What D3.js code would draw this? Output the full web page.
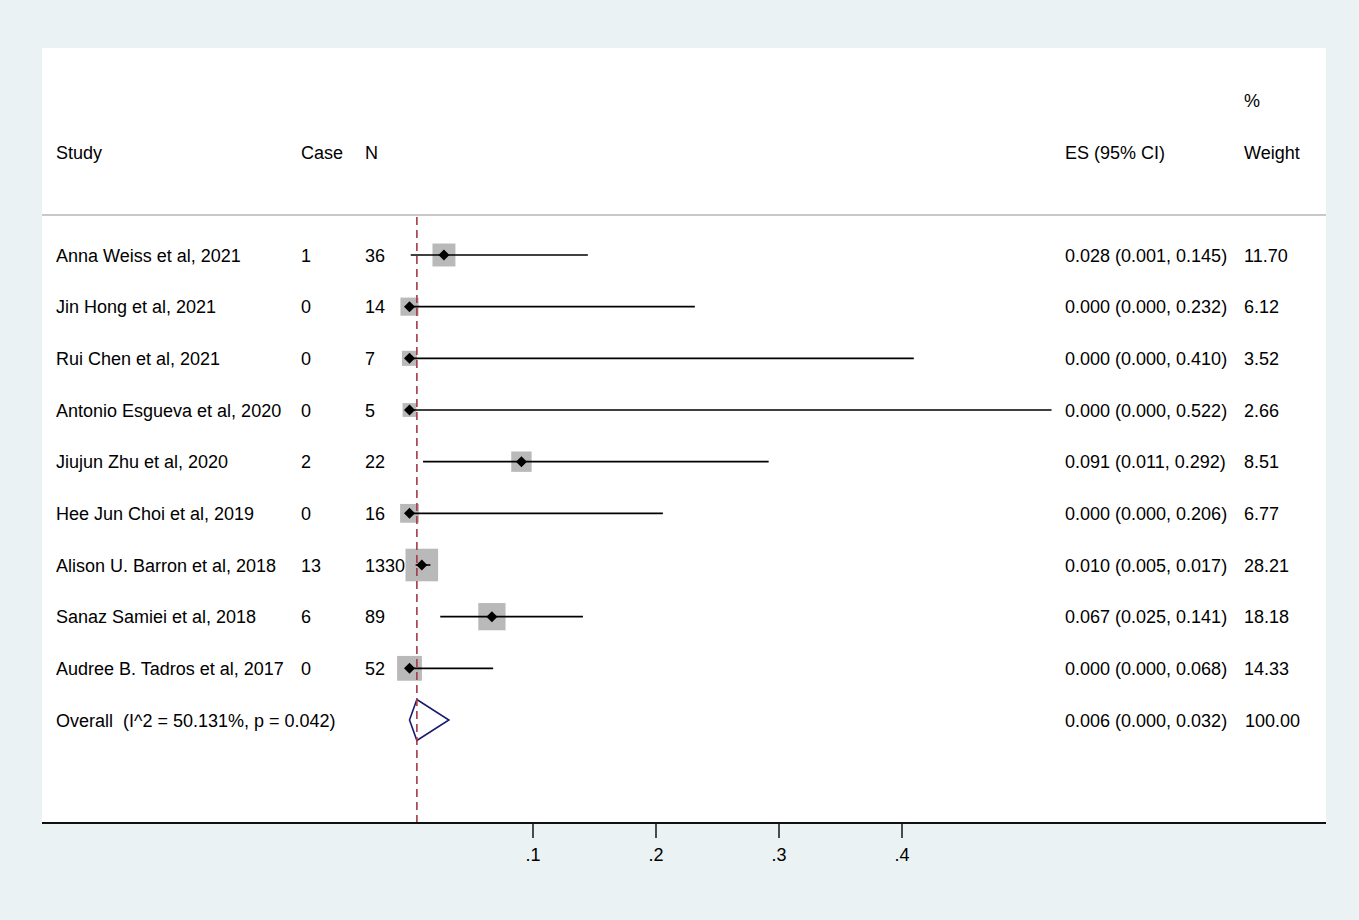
<!DOCTYPE html>
<html>
<head>
<meta charset="utf-8">
<script src="https://cdn.jsdelivr.net/npm/d3@7"></script>
<style>
  body { margin: 0; background: #eaf2f3; }
  svg text { font-family: "Liberation Sans", Arial, sans-serif; font-size: 18px; fill: #000; white-space: pre; }
</style>
</head>
<body>
<div id="chart"></div>
<script>
// study-level data
const studies = ["Anna Weiss et al, 2021", "Jin Hong et al, 2021", "Rui Chen et al, 2021",
    "Antonio Esgueva et al, 2020", "Jiujun Zhu et al, 2020", "Hee Jun Choi et al, 2019",
    "Alison U. Barron et al, 2018", "Sanaz Samiei et al, 2018", "Audree B. Tadros et al, 2017"];
const cases = [1, 0, 0, 0, 2, 0, 13, 6, 0];
const ns = [36, 14, 7, 5, 22, 16, 1330, 89, 52];
const es = [0.028, 0.000, 0.000, 0.000, 0.091, 0.000, 0.010, 0.067, 0.000];
const lower = [0.001, 0.000, 0.000, 0.000, 0.011, 0.000, 0.005, 0.025, 0.000];
const upper = [0.145, 0.232, 0.410, 0.522, 0.292, 0.206, 0.017, 0.141, 0.068];
const weights = ["11.70", "6.12", "3.52", "2.66", "8.51", "6.77", "28.21", "18.18", "14.33"];

// pooled estimate
const overallLabel = "Overall  (I^2 = 50.131%, p = 0.042)";
const overall = {es: 0.006, lo: 0.000, hi: 0.032, weight: "100.00"};

const xTicks = [0.1, 0.2, 0.3, 0.4];

const W = 1359, H = 920;
const panel = {left: 42, right: 1326, top: 48, bottom: 823};
const headerLine = 215;
const col = {study: 56, cases: 301, n: 365, es: 1065, weight: 1244};

const svg = d3.select("#chart").append("svg")
    .attr("width", W)
    .attr("height", H);

// white plot region
svg.append("rect")
    .attr("x", panel.left)
    .attr("y", panel.top)
    .attr("width", panel.right - panel.left)
    .attr("height", panel.bottom - panel.top)
    .attr("fill", "#fff");

// scales
const x = d3.scaleLinear().domain([0, 0.4]).range([409.5, 901.5]);
const y = d3.scaleLinear().domain([0, 9]).range([255, 720]);
const boxSize = d3.scaleSqrt().domain([0, 100]).range([5.5, 56.5]);

// header
svg.append("text").attr("x", col.study).attr("y", 159).text("Study");
svg.append("text").attr("x", col.cases).attr("y", 159).text("Case");
svg.append("text").attr("x", col.n).attr("y", 159).text("N");
svg.append("text").attr("x", col.es).attr("y", 159).text("ES (95% CI)");
svg.append("text").attr("x", col.weight).attr("y", 107).text("%");
svg.append("text").attr("x", col.weight).attr("y", 159).text("Weight");

svg.append("line")
    .attr("x1", panel.left).attr("x2", panel.right)
    .attr("y1", headerLine).attr("y2", headerLine)
    .attr("stroke", "#c8c8c8")
    .attr("stroke-width", 2);

const rows = studies.map((s, i) => ({
    study: s, cases: cases[i], n: ns[i], es: es[i], lo: lower[i], hi: upper[i], weight: weights[i], i: i
}));

const fmt = d3.format(".3f");

// weight boxes
svg.append("g").selectAll("rect")
    .data(rows)
    .join("rect")
    .attr("x", d => x(d.es) - boxSize(+d.weight) / 2)
    .attr("y", d => y(d.i) - boxSize(+d.weight) / 2)
    .attr("width", d => boxSize(+d.weight))
    .attr("height", d => boxSize(+d.weight))
    .attr("fill", "#b9b9b9");

// confidence intervals
svg.append("g").selectAll("line")
    .data(rows)
    .join("line")
    .attr("x1", d => x(d.lo))
    .attr("x2", d => x(d.hi))
    .attr("y1", d => y(d.i))
    .attr("y2", d => y(d.i))
    .attr("stroke", "#000")
    .attr("stroke-width", 1.6);

// point estimates
svg.append("g").selectAll("path")
    .data(rows)
    .join("path")
    .attr("d", d => {
        let cx = x(d.es), cy = y(d.i), r = 5.5;
        return `M${cx - r},${cy}L${cx},${cy - r}L${cx + r},${cy}L${cx},${cy + r}Z`;
    })
    .attr("fill", "#000");

// overall diamond
const oy = y(9);
svg.append("path")
    .attr("d", `M${x(overall.lo)},${oy}L${x(overall.es)},${oy - 20.5}L${x(overall.hi)},${oy}L${x(overall.es)},${oy + 20.5}Z`)
    .attr("fill", "none")
    .attr("stroke", "#1a1a6e")
    .attr("stroke-width", 1.6);

// reference line at the overall estimate
svg.append("line")
    .attr("x1", x(overall.es)).attr("x2", x(overall.es))
    .attr("y1", headerLine + 2).attr("y2", panel.bottom)
    .attr("stroke", "#a63a47")
    .attr("stroke-width", 1.6)
    .attr("stroke-dasharray", "8,5");

// row text
const rowText = svg.append("g");
rows.forEach(d => {
    let by = y(d.i) + 6.5;
    rowText.append("text").attr("x", col.study).attr("y", by).text(d.study);
    rowText.append("text").attr("x", col.cases).attr("y", by).text(d.cases);
    rowText.append("text").attr("x", col.n).attr("y", by).text(d.n);
    rowText.append("text").attr("x", col.es).attr("y", by)
        .text(`${fmt(d.es)} (${fmt(d.lo)}, ${fmt(d.hi)})`);
    rowText.append("text").attr("x", col.weight).attr("y", by).text(d.weight);
});
rowText.append("text").attr("x", col.study).attr("y", oy + 6.5).text(overallLabel);
rowText.append("text").attr("x", col.es).attr("y", oy + 6.5)
    .text(`${fmt(overall.es)} (${fmt(overall.lo)}, ${fmt(overall.hi)})`);
rowText.append("text").attr("x", col.weight + 1).attr("y", oy + 6.5).text(overall.weight);

// x axis
const xAxis = d3.axisBottom(x)
    .tickValues(xTicks)
    .tickSize(15)
    .tickPadding(10)
    .tickFormat(d => d3.format(".1f")(d).replace(/^0/, ""));

const axisG = svg.append("g")
    .attr("transform", `translate(0,${panel.bottom})`)
    .call(xAxis);
axisG.select(".domain").remove();
axisG.selectAll(".tick line").attr("stroke", "#222").attr("stroke-width", 1.6);
axisG.selectAll(".tick text").style("font-size", "18px").attr("fill", "#000");

svg.append("line")
    .attr("x1", panel.left).attr("x2", panel.right)
    .attr("y1", panel.bottom).attr("y2", panel.bottom)
    .attr("stroke", "#111")
    .attr("stroke-width", 2);
</script>
</body>
</html>
